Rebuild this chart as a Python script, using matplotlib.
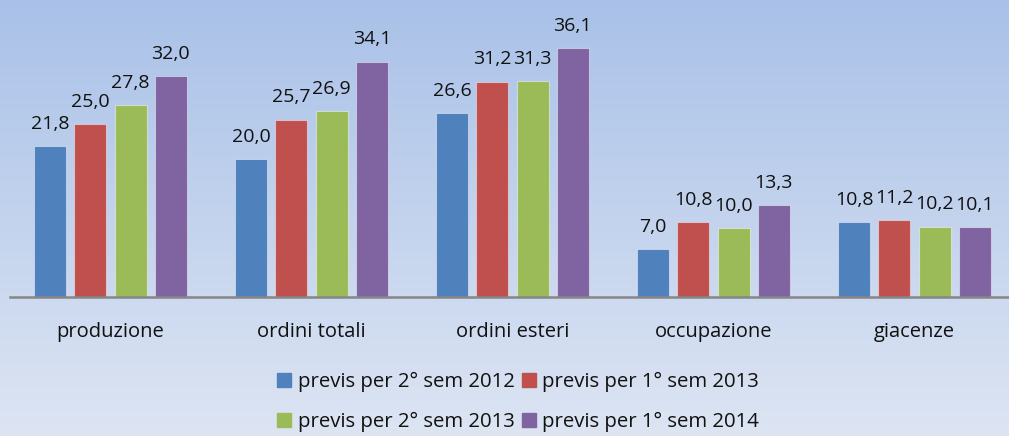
import numpy as np
import matplotlib.pyplot as plt
from matplotlib.patches import Patch

# data
categorie = ['produzione', 'ordini totali', 'ordini esteri', 'occupazione', 'giacenze']
serie = ['previs per 2° sem 2012', 'previs per 1° sem 2013',
         'previs per 2° sem 2013', 'previs per 1° sem 2014']
sem2_2012 = [21.8, 20.0, 26.6, 7.0, 10.8]
sem1_2013 = [25.0, 25.7, 31.2, 10.8, 11.2]
sem2_2013 = [27.8, 26.9, 31.3, 10.0, 10.2]
sem1_2014 = [32.0, 34.1, 36.1, 13.3, 10.1]
valori = [sem2_2012, sem1_2013, sem2_2013, sem1_2014]
colori = ['#4F81BD', '#C0504D', '#9BBB59', '#8064A2']

plt.rcParams['font.family'] = ['Open Sans', 'DejaVu Sans']

fig = plt.figure(figsize=(10.09, 4.36), dpi=100)

# sfondo sfumato
bg = fig.add_axes([0, 0, 1, 1], zorder=-10)
top = np.array([169, 193, 232]) / 255
bot = np.array([221, 229, 243]) / 255
t = np.linspace(0, 1, 256)[:, None]
grad = top * (1 - t) + bot * t
bg.imshow(grad[:, None, :], aspect='auto', extent=[0, 1, 0, 1])
bg.axis('off')

ax = fig.add_axes([10 / 1009, 1 - 297 / 436, 999 / 1009, 297 / 436])
ax.patch.set_alpha(0)

x = np.arange(len(categorie))
w = 0.2
for i, (v, c) in enumerate(zip(valori, colori)):
    pos = x + (i - 1.5) * w
    bars = ax.bar(pos, v, width=0.16, color=c, edgecolor=(1, 1, 1, 0.45),
                  linewidth=0.8, label=serie[i])
    for b, val in zip(bars, v):
        ax.text(b.get_x() + b.get_width() / 2, val + 1.9, f'{val:.1f}'.replace('.', ','),
                ha='center', va='bottom', fontsize=14, color='#111111')

ax.set_xlim(-0.5, -0.5 + 999 / 201)
ax.set_ylim(0, 297 / 6.906)
ax.set_xticks(x)
ax.set_xticklabels(categorie, fontsize=14.5, color='#111111')
ax.tick_params(axis='x', length=0, pad=18)
ax.set_yticks([])
for s in ['top', 'right', 'left']:
    ax.spines[s].set_visible(False)
ax.spines['bottom'].set_color('#868686')
ax.spines['bottom'].set_linewidth(1.8)

handles = [Patch(color=c) for c in colori]
order = [0, 2, 1, 3]
leg = fig.legend([handles[i] for i in order], [serie[i] for i in order], ncol=2,
                 loc='center', bbox_to_anchor=(518 / 1009, 1 - 402 / 436), frameon=False,
                 fontsize=14.7, handlelength=0.7, handleheight=0.7, handletextpad=0.3,
                 columnspacing=0.35, labelspacing=1.0)
for txt in leg.get_texts():
    txt.set_color('#111111')

plt.savefig('out.png', dpi=100)
